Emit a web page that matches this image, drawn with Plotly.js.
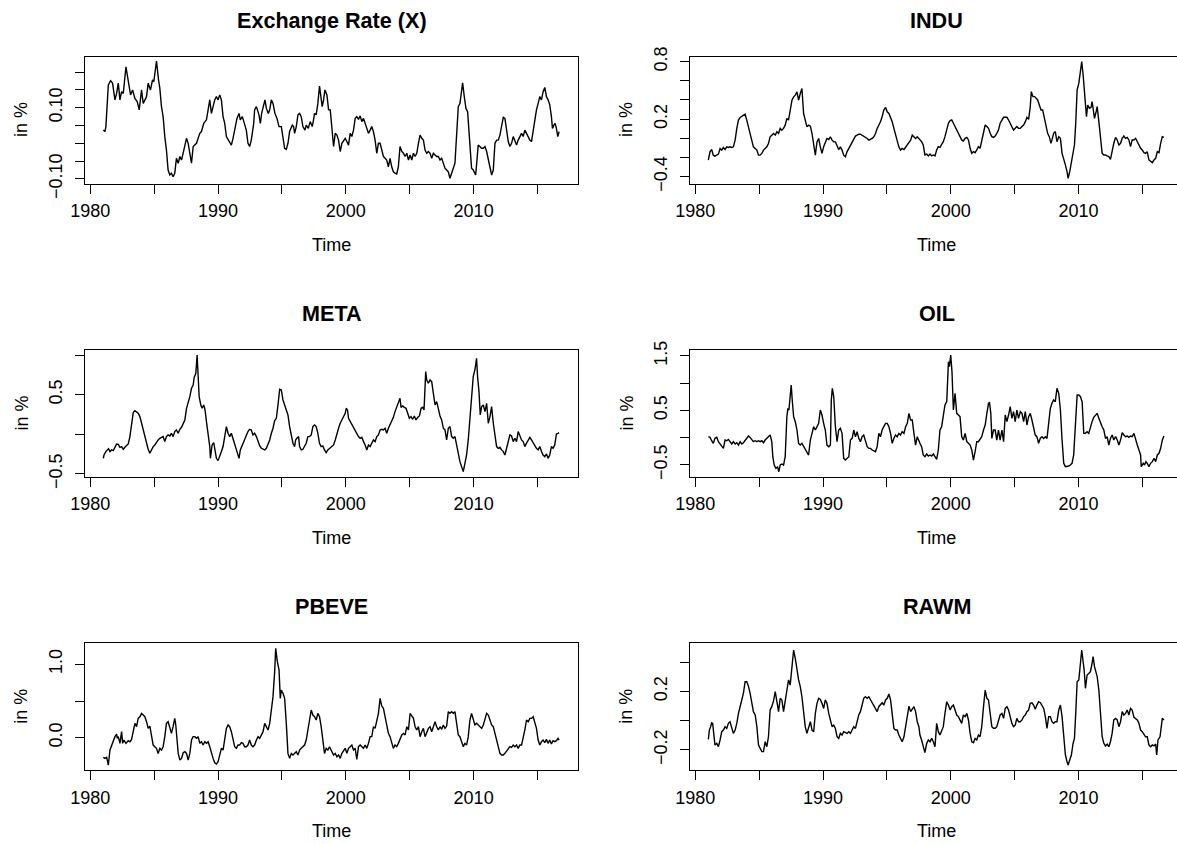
<!DOCTYPE html>
<html><head><meta charset="utf-8">
<script src="https://cdn.plot.ly/plotly-3.0.1.min.js"></script>
<style>html,body{margin:0;padding:0;background:#fff}#chart{width:1177px;height:844px}</style>
</head><body><div id="chart"></div><script>
// ---- tick labels ----
const xTickVals=[1980,1985,1990,1995,2000,2005,2010,2015];
const xTickText=['1980','','1990','','2000','','2010',''];
const exTickVals=[-0.10,-0.05,0,0.05,0.10,0.15,0.20];
const exTickText=['\u22120.10','','','','0.10','',''];
const induTickVals=[-0.4,-0.2,0,0.2,0.4,0.6,0.8];
const induTickText=['\u22120.4','','','0.2','','','0.8'];
const metaTickVals=[-0.5,0,0.5,1.0];
const metaTickText=['\u22120.5','','0.5',''];
const oilTickVals=[-0.5,0,0.5,1.0,1.5];
const oilTickText=['\u22120.5','','0.5','','1.5'];
const pbeveTickVals=[0,0.5,1.0];
const pbeveTickText=['0.0','','1.0'];
const rawmTickVals=[-0.2,0,0.2,0.4];
const rawmTickText=['\u22120.2','','0.2',''];
const titles=['Exchange Rate (X)','INDU','META','OIL','PBEVE','RAWM'];

// ---- Exchange Rate (X) ----
const exTime=[1981.02,1981.15,1981.22,1981.41,1981.59,1981.74,1981.93,1982.06,1982.19,1982.32,1982.45,1982.58,1982.79,1982.97,1983.15,1983.31,1983.49,1983.67,1983.83,1984.01,1984.14,1984.40,1984.53,1984.71,1984.87,1984.97,1985.18,1985.34,1985.44,1985.57,1985.70,1985.83,1985.96,1986.09,1986.22,1986.35,1986.48,1986.61,1986.74,1986.88,1987.01,1987.14,1987.27,1987.40,1987.53,1987.66,1987.79,1987.92,1988.05,1988.31,1988.57,1988.70,1988.88,1989.09,1989.22,1989.35,1989.48,1989.61,1989.74,1989.87,1990.00,1990.13,1990.26,1990.39,1990.52,1990.65,1990.86,1991.04,1991.17,1991.30,1991.48,1991.64,1991.74,1991.90,1992.08,1992.21,1992.34,1992.47,1992.60,1992.79,1992.86,1993.00,1993.20,1993.31,1993.41,1993.57,1993.67,1993.78,1993.93,1994.04,1994.17,1994.30,1994.45,1994.61,1994.77,1994.95,1995.08,1995.21,1995.34,1995.47,1995.60,1995.81,1995.91,1995.99,1996.12,1996.25,1996.38,1996.51,1996.64,1996.80,1996.90,1997.06,1997.21,1997.37,1997.47,1997.55,1997.68,1997.81,1997.94,1998.07,1998.15,1998.26,1998.36,1998.52,1998.65,1998.78,1998.91,1999.04,1999.17,1999.30,1999.43,1999.56,1999.69,1999.82,1999.95,2000.08,2000.21,2000.34,2000.47,2000.60,2000.73,2000.86,2000.99,2001.12,2001.25,2001.38,2001.51,2001.64,2001.77,2001.90,2002.03,2002.16,2002.29,2002.42,2002.55,2002.68,2002.81,2002.94,2003.07,2003.20,2003.33,2003.46,2003.59,2003.72,2003.85,2003.98,2004.11,2004.24,2004.38,2004.51,2004.64,2004.77,2004.90,2005.03,2005.16,2005.29,2005.42,2005.55,2005.68,2005.81,2005.94,2006.07,2006.20,2006.33,2006.46,2006.59,2006.72,2006.85,2006.98,2007.11,2007.24,2007.37,2007.50,2007.63,2007.76,2007.89,2008.02,2008.15,2008.28,2008.41,2008.54,2008.67,2008.80,2008.93,2009.01,2009.14,2009.27,2009.40,2009.53,2009.71,2009.84,2009.97,2010.16,2010.23,2010.36,2010.49,2010.63,2010.76,2010.89,2011.02,2011.15,2011.28,2011.41,2011.54,2011.67,2011.80,2011.93,2012.06,2012.19,2012.32,2012.45,2012.58,2012.71,2012.84,2012.97,2013.10,2013.23,2013.36,2013.49,2013.62,2013.75,2013.88,2014.01,2014.14,2014.27,2014.40,2014.53,2014.66,2014.79,2014.92,2015.05,2015.18,2015.31,2015.44,2015.57,2015.70,2015.83,2015.96,2016.09,2016.17,2016.28,2016.38,2016.48,2016.59,2016.69];
const exVal=[0.037,0.033,0.047,0.164,0.176,0.169,0.122,0.140,0.169,0.122,0.145,0.140,0.215,0.169,0.136,0.150,0.126,0.117,0.094,0.150,0.112,0.131,0.169,0.150,0.178,0.173,0.231,0.178,0.155,0.103,0.075,0.019,-0.019,-0.075,-0.089,-0.084,-0.094,-0.084,-0.042,-0.056,-0.037,-0.047,-0.028,-0.009,0.014,0.000,-0.028,-0.056,-0.009,0.000,0.028,0.033,0.056,0.066,0.094,0.122,0.084,0.108,0.122,0.131,0.122,0.136,0.122,0.075,0.056,0.019,0.005,-0.005,0.014,0.037,0.070,0.084,0.066,0.075,0.056,0.037,0.000,-0.009,0.009,0.056,0.094,0.103,0.080,0.056,0.084,0.112,0.122,0.098,0.084,0.094,0.122,0.112,0.084,0.070,0.047,0.047,0.019,-0.014,-0.017,0.000,0.033,0.051,0.047,0.028,0.047,0.080,0.084,0.075,0.047,0.037,0.051,0.042,0.061,0.047,0.066,0.084,0.080,0.112,0.161,0.131,0.103,0.122,0.150,0.136,0.094,0.094,0.037,-0.009,0.028,0.023,0.009,-0.023,0.000,0.009,0.014,0.005,-0.005,0.028,0.019,0.037,0.070,0.075,0.067,0.077,0.061,0.070,0.056,0.037,0.028,0.037,0.047,0.033,0.009,-0.028,0.000,0.000,-0.019,-0.037,-0.042,-0.047,-0.066,-0.042,-0.066,-0.080,-0.084,-0.086,-0.066,-0.009,-0.023,-0.028,-0.037,-0.028,-0.047,-0.033,-0.047,-0.028,-0.037,-0.028,0.000,0.023,0.014,0.009,-0.019,-0.028,-0.023,-0.028,-0.042,-0.028,-0.033,-0.037,-0.037,-0.047,-0.042,-0.056,-0.070,-0.075,-0.080,-0.098,-0.080,-0.070,-0.056,0.037,0.103,0.112,0.140,0.170,0.131,0.098,0.089,0.009,-0.070,-0.075,-0.089,-0.061,-0.005,-0.009,-0.014,-0.014,-0.009,-0.023,-0.047,-0.075,-0.089,-0.075,0.000,0.009,0.009,0.023,0.047,0.073,0.070,0.033,0.005,-0.009,0.000,0.019,0.005,-0.005,0.009,0.019,0.028,0.019,0.037,0.028,0.019,0.009,0.005,0.037,0.061,0.094,0.112,0.131,0.122,0.145,0.157,0.131,0.122,0.108,0.075,0.042,0.051,0.056,0.042,0.019,0.033];

// ---- INDU ----
const induTime=[1981.02,1981.15,1981.28,1981.41,1981.54,1981.68,1981.81,1981.94,1982.07,1982.20,1982.33,1982.46,1982.59,1982.72,1982.85,1982.98,1983.12,1983.25,1983.38,1983.51,1983.64,1983.77,1983.90,1984.03,1984.16,1984.29,1984.42,1984.55,1984.69,1984.82,1984.95,1985.08,1985.21,1985.34,1985.47,1985.60,1985.73,1985.86,1985.99,1986.13,1986.26,1986.39,1986.52,1986.65,1986.78,1986.91,1987.04,1987.17,1987.30,1987.43,1987.57,1987.70,1987.83,1987.96,1988.09,1988.22,1988.35,1988.48,1988.61,1988.74,1988.87,1989.01,1989.14,1989.27,1989.40,1989.53,1989.66,1989.79,1989.92,1990.05,1990.18,1990.31,1990.45,1990.58,1990.71,1990.84,1990.97,1991.10,1991.23,1991.36,1991.49,1991.62,1991.75,1991.88,1992.02,1992.15,1992.28,1992.41,1992.54,1992.67,1992.80,1992.93,1993.06,1993.19,1993.32,1993.46,1993.59,1993.72,1993.85,1993.98,1994.11,1994.24,1994.37,1994.50,1994.63,1994.76,1994.90,1995.03,1995.16,1995.29,1995.42,1995.55,1995.68,1995.81,1995.94,1996.07,1996.20,1996.34,1996.47,1996.60,1996.73,1996.86,1996.99,1997.12,1997.25,1997.38,1997.51,1997.64,1997.72,1997.85,1997.98,1998.12,1998.25,1998.38,1998.51,1998.64,1998.77,1998.90,1999.03,1999.16,1999.29,1999.42,1999.55,1999.69,1999.82,1999.95,2000.08,2000.21,2000.34,2000.47,2000.60,2000.73,2000.86,2000.99,2001.13,2001.26,2001.39,2001.52,2001.65,2001.78,2001.91,2002.04,2002.17,2002.30,2002.43,2002.57,2002.70,2002.83,2002.96,2003.09,2003.22,2003.35,2003.48,2003.61,2003.74,2003.87,2004.01,2004.14,2004.27,2004.40,2004.53,2004.66,2004.79,2004.92,2005.05,2005.18,2005.31,2005.45,2005.58,2005.71,2005.84,2005.97,2006.10,2006.23,2006.31,2006.44,2006.57,2006.70,2006.81,2006.94,2007.07,2007.20,2007.33,2007.46,2007.59,2007.72,2007.85,2007.93,2008.06,2008.19,2008.32,2008.46,2008.59,2008.72,2008.85,2008.98,2009.11,2009.19,2009.32,2009.45,2009.58,2009.69,2009.79,2009.90,2010.03,2010.16,2010.26,2010.37,2010.45,2010.55,2010.63,2010.73,2010.86,2010.99,2011.07,2011.15,2011.26,2011.39,2011.47,2011.60,2011.73,2011.86,2011.99,2012.12,2012.25,2012.38,2012.51,2012.64,2012.77,2012.91,2013.04,2013.17,2013.30,2013.43,2013.56,2013.69,2013.82,2013.95,2014.08,2014.21,2014.35,2014.48,2014.61,2014.74,2014.87,2015.00,2015.13,2015.26,2015.39,2015.52,2015.65,2015.79,2015.92,2016.05,2016.18,2016.31,2016.44,2016.57,2016.70];
const induVal=[-0.228,-0.141,-0.117,-0.176,-0.186,-0.176,-0.165,-0.106,-0.123,-0.096,-0.117,-0.089,-0.096,-0.089,-0.096,-0.089,-0.019,0.103,0.190,0.217,0.231,0.242,0.252,0.190,0.120,0.050,-0.019,-0.089,-0.106,-0.123,-0.176,-0.176,-0.158,-0.123,-0.106,-0.089,-0.054,0.016,0.033,0.050,0.033,0.068,0.050,0.103,0.085,0.103,0.137,0.207,0.190,0.294,0.398,0.433,0.450,0.485,0.398,0.468,0.520,0.259,0.172,0.120,0.137,0.127,0.050,-0.054,-0.176,-0.037,-0.002,-0.089,-0.158,-0.089,-0.037,-0.002,-0.012,0.016,-0.019,-0.037,-0.037,-0.071,-0.117,-0.089,-0.123,-0.176,-0.193,-0.141,-0.106,-0.071,-0.037,-0.002,0.023,0.033,0.043,0.043,0.033,0.016,0.009,-0.002,-0.019,-0.012,-0.002,0.016,0.050,0.103,0.137,0.172,0.224,0.294,0.322,0.277,0.259,0.224,0.172,0.103,0.033,-0.037,-0.089,-0.123,-0.106,-0.117,-0.089,-0.071,-0.047,-0.019,0.033,0.016,-0.002,0.016,-0.002,-0.019,-0.035,-0.070,-0.174,-0.164,-0.184,-0.164,-0.184,-0.174,-0.184,-0.122,-0.087,-0.094,-0.070,-0.035,0.017,0.104,0.157,0.184,0.191,0.157,0.122,0.087,0.045,0.010,-0.017,-0.028,0.000,0.010,-0.017,-0.104,-0.157,-0.139,-0.150,-0.122,-0.087,-0.104,-0.017,0.052,0.139,0.122,0.104,0.052,0.017,0.010,0.024,0.052,0.087,0.157,0.198,0.219,0.219,0.219,0.191,0.157,0.122,0.087,0.104,0.122,0.104,0.104,0.122,0.139,0.174,0.219,0.198,0.331,0.487,0.435,0.435,0.418,0.400,0.348,0.296,0.296,0.209,0.157,0.052,0.017,-0.052,-0.017,0.052,0.070,-0.035,0.017,0.000,-0.157,-0.209,-0.278,-0.348,-0.418,-0.348,-0.261,-0.157,-0.070,0.157,0.505,0.574,0.679,0.800,0.661,0.539,0.296,0.226,0.348,0.313,0.324,0.383,0.313,0.209,0.278,0.331,0.174,0.017,-0.157,-0.174,-0.174,-0.184,-0.191,-0.219,-0.122,-0.052,0.010,-0.017,-0.070,-0.052,0.000,0.024,0.000,0.010,-0.017,-0.087,-0.017,-0.017,0.000,-0.035,-0.070,-0.104,-0.122,-0.150,-0.157,-0.139,-0.226,-0.244,-0.254,-0.226,-0.209,-0.139,-0.150,-0.052,0.017,0.010];

// ---- META ----
const metaTime=[1981.02,1981.07,1981.22,1981.33,1981.43,1981.54,1981.67,1981.80,1981.93,1982.06,1982.19,1982.32,1982.45,1982.58,1982.71,1982.84,1982.97,1983.10,1983.23,1983.36,1983.49,1983.62,1983.75,1983.88,1984.01,1984.14,1984.27,1984.40,1984.53,1984.66,1984.79,1984.92,1985.05,1985.18,1985.31,1985.44,1985.57,1985.70,1985.83,1985.96,1986.09,1986.22,1986.35,1986.48,1986.61,1986.74,1986.88,1987.01,1987.14,1987.27,1987.40,1987.53,1987.66,1987.79,1987.92,1988.05,1988.13,1988.26,1988.36,1988.46,1988.52,1988.65,1988.75,1988.88,1988.98,1989.09,1989.22,1989.35,1989.40,1989.53,1989.66,1989.77,1989.87,1990.00,1990.13,1990.26,1990.39,1990.52,1990.65,1990.78,1990.91,1991.04,1991.17,1991.30,1991.43,1991.56,1991.64,1991.74,1991.90,1992.08,1992.21,1992.34,1992.47,1992.60,1992.73,1992.86,1993.00,1993.13,1993.26,1993.39,1993.52,1993.65,1993.78,1993.91,1994.04,1994.17,1994.30,1994.43,1994.56,1994.69,1994.82,1994.95,1995.08,1995.21,1995.34,1995.47,1995.60,1995.73,1995.86,1995.99,1996.07,1996.17,1996.30,1996.38,1996.51,1996.64,1996.77,1996.90,1997.03,1997.16,1997.29,1997.42,1997.55,1997.68,1997.81,1997.94,1998.07,1998.20,1998.33,1998.46,1998.59,1998.72,1998.78,1998.91,1999.04,1999.17,1999.30,1999.43,1999.56,1999.69,1999.82,1999.95,2000.03,2000.13,2000.21,2000.34,2000.47,2000.60,2000.73,2000.86,2000.99,2001.12,2001.25,2001.38,2001.51,2001.64,2001.77,2001.90,2002.03,2002.16,2002.29,2002.42,2002.55,2002.68,2002.81,2002.94,2003.07,2003.20,2003.33,2003.46,2003.59,2003.72,2003.85,2003.98,2004.11,2004.24,2004.32,2004.45,2004.58,2004.71,2004.84,2004.97,2005.10,2005.23,2005.36,2005.49,2005.63,2005.76,2005.89,2006.02,2006.12,2006.25,2006.33,2006.46,2006.59,2006.72,2006.85,2006.98,2007.11,2007.24,2007.37,2007.50,2007.63,2007.76,2007.89,2008.02,2008.15,2008.28,2008.41,2008.54,2008.67,2008.80,2008.93,2009.06,2009.19,2009.32,2009.45,2009.58,2009.71,2009.84,2009.97,2010.10,2010.23,2010.31,2010.42,2010.52,2010.63,2010.76,2010.89,2011.02,2011.15,2011.28,2011.41,2011.54,2011.67,2011.80,2011.93,2012.06,2012.19,2012.32,2012.45,2012.58,2012.71,2012.84,2012.97,2013.10,2013.23,2013.36,2013.49,2013.62,2013.75,2013.88,2014.01,2014.14,2014.27,2014.40,2014.53,2014.66,2014.79,2014.92,2015.05,2015.18,2015.31,2015.44,2015.57,2015.70,2015.83,2015.96,2016.09,2016.22,2016.35,2016.48,2016.61,2016.69];
const metaVal=[-0.303,-0.261,-0.218,-0.189,-0.181,-0.218,-0.197,-0.206,-0.164,-0.122,-0.126,-0.164,-0.155,-0.189,-0.164,-0.147,-0.122,-0.029,0.160,0.273,0.298,0.286,0.265,0.223,0.139,0.055,-0.029,-0.113,-0.189,-0.239,-0.197,-0.155,-0.134,-0.092,-0.071,-0.050,-0.038,-0.029,-0.092,-0.029,-0.008,-0.021,0.013,-0.029,0.034,0.055,0.013,0.063,0.088,0.139,0.181,0.328,0.391,0.475,0.580,0.622,0.718,0.769,1.000,0.727,0.475,0.370,0.328,0.370,0.307,0.160,0.013,-0.155,-0.303,-0.134,-0.105,-0.197,-0.303,-0.332,-0.282,-0.218,-0.155,-0.029,0.097,0.013,-0.029,0.013,-0.050,-0.134,-0.176,-0.239,-0.303,-0.197,-0.134,-0.071,-0.021,0.034,0.063,0.055,-0.008,0.013,-0.029,-0.092,-0.147,-0.176,-0.189,-0.197,-0.176,-0.134,-0.071,0.013,0.076,0.172,0.202,0.370,0.567,0.559,0.433,0.370,0.307,0.244,0.097,-0.029,-0.113,-0.155,-0.071,-0.050,-0.029,-0.155,-0.197,-0.189,-0.155,-0.113,-0.029,-0.029,-0.008,0.097,0.118,0.097,0.013,-0.113,-0.155,-0.147,-0.197,-0.231,-0.197,-0.176,-0.176,-0.155,-0.134,-0.071,0.013,0.076,0.139,0.181,0.223,0.265,0.328,0.307,0.202,0.160,0.139,0.076,0.034,-0.008,-0.029,-0.050,-0.038,-0.092,-0.134,-0.197,-0.134,-0.155,-0.113,-0.071,-0.092,-0.029,-0.008,0.055,0.063,0.055,0.076,0.013,0.076,0.118,0.181,0.214,0.286,0.349,0.399,0.454,0.340,0.357,0.340,0.328,0.265,0.202,0.223,0.189,0.231,0.181,0.214,0.231,0.328,0.340,0.307,0.790,0.685,0.643,0.685,0.664,0.517,0.370,0.412,0.307,0.231,0.181,0.076,0.055,-0.071,0.076,0.097,-0.029,-0.050,-0.029,-0.134,-0.282,-0.345,-0.408,-0.471,-0.366,-0.261,-0.071,0.202,0.559,0.727,0.811,0.958,0.727,0.538,0.244,0.349,0.370,0.286,0.391,0.139,0.223,0.349,0.139,-0.029,-0.155,-0.176,-0.164,-0.197,-0.218,-0.261,-0.176,-0.071,-0.008,-0.021,-0.092,-0.050,-0.092,0.034,-0.029,-0.071,-0.092,-0.155,-0.113,-0.071,-0.038,-0.071,-0.113,-0.134,-0.176,-0.197,-0.155,-0.218,-0.261,-0.282,-0.248,-0.303,-0.261,-0.155,-0.176,-0.134,0.004,0.013,0.021];

// ---- OIL ----
const oilTime=[1981.02,1981.15,1981.28,1981.41,1981.54,1981.68,1981.81,1981.94,1982.07,1982.20,1982.33,1982.46,1982.59,1982.72,1982.85,1982.98,1983.12,1983.25,1983.38,1983.51,1983.64,1983.77,1983.90,1984.03,1984.16,1984.29,1984.42,1984.55,1984.69,1984.82,1984.95,1985.08,1985.21,1985.34,1985.47,1985.60,1985.73,1985.86,1985.99,1986.07,1986.18,1986.31,1986.44,1986.54,1986.65,1986.78,1986.91,1987.04,1987.17,1987.25,1987.33,1987.43,1987.51,1987.59,1987.70,1987.83,1987.96,1988.09,1988.22,1988.35,1988.48,1988.61,1988.74,1988.87,1989.01,1989.14,1989.27,1989.40,1989.53,1989.66,1989.79,1989.92,1990.05,1990.18,1990.31,1990.45,1990.58,1990.65,1990.73,1990.84,1990.97,1991.10,1991.23,1991.36,1991.49,1991.62,1991.75,1991.88,1992.02,1992.15,1992.28,1992.41,1992.54,1992.67,1992.80,1992.93,1993.06,1993.19,1993.32,1993.46,1993.59,1993.72,1993.85,1993.98,1994.11,1994.24,1994.37,1994.50,1994.63,1994.76,1994.90,1995.03,1995.16,1995.29,1995.42,1995.55,1995.68,1995.81,1995.94,1996.07,1996.20,1996.34,1996.47,1996.60,1996.73,1996.86,1996.99,1997.12,1997.25,1997.38,1997.51,1997.59,1997.72,1997.85,1997.98,1998.12,1998.25,1998.38,1998.51,1998.64,1998.77,1998.90,1999.03,1999.16,1999.29,1999.42,1999.55,1999.69,1999.82,1999.90,2000.00,2000.10,2000.21,2000.34,2000.47,2000.60,2000.73,2000.86,2000.99,2001.13,2001.26,2001.39,2001.52,2001.65,2001.78,2001.91,2002.04,2002.17,2002.30,2002.43,2002.57,2002.70,2002.83,2002.96,2003.04,2003.14,2003.22,2003.35,2003.48,2003.61,2003.74,2003.87,2004.01,2004.14,2004.27,2004.40,2004.53,2004.66,2004.79,2004.92,2005.05,2005.18,2005.31,2005.45,2005.58,2005.71,2005.84,2005.97,2006.10,2006.23,2006.36,2006.49,2006.62,2006.75,2006.88,2007.01,2007.15,2007.28,2007.41,2007.54,2007.67,2007.80,2007.93,2008.06,2008.19,2008.32,2008.46,2008.59,2008.72,2008.85,2008.98,2009.11,2009.24,2009.37,2009.50,2009.63,2009.76,2009.90,2010.03,2010.16,2010.29,2010.42,2010.55,2010.68,2010.81,2010.94,2011.07,2011.20,2011.34,2011.47,2011.60,2011.73,2011.86,2011.99,2012.12,2012.25,2012.38,2012.51,2012.64,2012.77,2012.91,2013.04,2013.17,2013.30,2013.43,2013.56,2013.69,2013.82,2013.95,2014.08,2014.21,2014.35,2014.48,2014.61,2014.74,2014.87,2014.92,2015.08,2015.18,2015.29,2015.39,2015.52,2015.65,2015.79,2015.92,2016.05,2016.18,2016.31,2016.44,2016.57,2016.70];
const oilVal=[0.018,0.006,-0.055,-0.104,-0.012,0.006,-0.073,-0.104,-0.153,-0.196,-0.043,-0.055,-0.031,-0.073,-0.116,-0.073,-0.116,-0.092,-0.135,-0.073,-0.116,-0.092,-0.043,-0.012,0.031,0.006,-0.043,-0.073,-0.055,-0.073,-0.055,-0.073,-0.055,-0.092,-0.043,-0.012,0.018,0.049,-0.073,-0.349,-0.502,-0.563,-0.532,-0.624,-0.502,-0.483,-0.502,-0.349,0.385,0.538,0.508,0.752,0.966,0.691,0.385,0.294,0.141,-0.104,-0.135,-0.104,-0.165,-0.226,-0.287,-0.318,-0.043,0.110,0.202,0.141,0.202,0.263,0.508,0.416,0.263,0.141,-0.135,-0.165,-0.135,0.691,0.905,0.752,0.202,-0.073,0.141,0.171,0.080,-0.379,-0.410,-0.379,-0.349,-0.043,-0.012,0.141,0.018,0.110,-0.012,-0.073,0.018,0.049,-0.043,-0.165,-0.196,-0.196,-0.226,-0.239,-0.257,-0.165,0.080,0.018,0.141,0.202,0.263,0.263,0.202,0.080,-0.104,-0.012,0.049,0.018,0.080,0.049,0.110,0.080,0.202,0.263,0.446,0.324,0.324,0.080,-0.135,0.018,-0.073,-0.103,-0.165,-0.317,-0.348,-0.299,-0.336,-0.317,-0.336,-0.299,-0.348,-0.397,-0.226,0.141,0.202,0.386,0.600,0.661,1.395,1.303,1.517,1.211,0.508,0.814,0.447,0.416,0.386,0.019,-0.043,0.080,-0.073,-0.103,-0.134,-0.226,-0.410,-0.256,-0.073,-0.073,-0.013,0.019,0.141,0.233,0.447,0.631,0.642,0.447,-0.013,0.141,0.141,-0.043,0.141,-0.043,0.141,-0.073,0.416,0.294,0.416,0.569,0.355,0.477,0.294,0.508,0.355,0.477,0.447,0.294,0.477,0.233,0.386,0.447,0.325,0.202,0.049,0.019,-0.103,-0.013,0.019,-0.013,0.019,-0.013,0.263,0.539,0.631,0.692,0.661,0.906,0.814,0.508,-0.043,-0.470,-0.531,-0.531,-0.520,-0.501,-0.470,-0.317,0.141,0.783,0.783,0.753,0.661,0.080,0.080,0.111,0.080,0.202,0.294,0.373,0.416,0.447,0.355,0.263,0.202,0.141,-0.013,0.019,-0.134,-0.013,0.049,-0.043,0.019,-0.043,-0.134,-0.043,0.092,0.049,0.019,0.031,0.007,0.031,0.019,0.080,-0.043,-0.134,-0.226,-0.317,-0.531,-0.470,-0.501,-0.440,-0.470,-0.531,-0.470,-0.440,-0.378,-0.440,-0.317,-0.287,-0.195,-0.043,0.031];

// ---- PBEVE ----
const pbeveTime=[1981.02,1981.15,1981.28,1981.41,1981.54,1981.67,1981.80,1981.93,1982.06,1982.11,1982.19,1982.32,1982.45,1982.53,1982.63,1982.79,1982.97,1983.10,1983.23,1983.36,1983.49,1983.62,1983.75,1983.88,1984.01,1984.14,1984.27,1984.40,1984.53,1984.66,1984.79,1984.92,1985.05,1985.18,1985.31,1985.44,1985.57,1985.70,1985.83,1985.96,1986.09,1986.22,1986.35,1986.48,1986.61,1986.69,1986.80,1986.88,1987.01,1987.14,1987.27,1987.40,1987.53,1987.66,1987.79,1987.92,1988.05,1988.18,1988.31,1988.44,1988.57,1988.70,1988.83,1988.96,1989.09,1989.22,1989.35,1989.48,1989.61,1989.74,1989.87,1990.00,1990.13,1990.26,1990.39,1990.52,1990.65,1990.78,1990.91,1991.04,1991.17,1991.30,1991.43,1991.56,1991.69,1991.82,1991.95,1992.08,1992.21,1992.34,1992.47,1992.60,1992.73,1992.86,1993.00,1993.13,1993.26,1993.39,1993.52,1993.65,1993.78,1993.91,1994.04,1994.17,1994.30,1994.43,1994.51,1994.64,1994.77,1994.87,1994.95,1995.08,1995.21,1995.34,1995.47,1995.60,1995.73,1995.86,1995.99,1996.12,1996.25,1996.38,1996.51,1996.64,1996.77,1996.90,1997.03,1997.16,1997.29,1997.42,1997.55,1997.68,1997.81,1997.94,1998.07,1998.20,1998.33,1998.46,1998.59,1998.72,1998.91,1999.04,1999.17,1999.30,1999.43,1999.56,1999.69,1999.82,1999.95,2000.08,2000.21,2000.34,2000.47,2000.60,2000.73,2000.86,2000.99,2001.12,2001.25,2001.38,2001.51,2001.64,2001.77,2001.90,2002.03,2002.16,2002.29,2002.42,2002.55,2002.68,2002.81,2002.94,2003.07,2003.20,2003.33,2003.46,2003.59,2003.72,2003.85,2003.98,2004.11,2004.24,2004.38,2004.51,2004.64,2004.77,2004.90,2005.03,2005.16,2005.29,2005.42,2005.55,2005.68,2005.81,2005.94,2006.07,2006.20,2006.33,2006.46,2006.59,2006.72,2006.85,2006.98,2007.11,2007.24,2007.37,2007.50,2007.63,2007.76,2007.89,2008.02,2008.15,2008.28,2008.41,2008.54,2008.67,2008.80,2008.93,2009.06,2009.19,2009.32,2009.45,2009.58,2009.71,2009.84,2009.97,2010.10,2010.23,2010.36,2010.49,2010.63,2010.76,2010.89,2011.02,2011.15,2011.28,2011.41,2011.54,2011.67,2011.80,2011.93,2012.06,2012.19,2012.32,2012.45,2012.58,2012.71,2012.84,2012.97,2013.10,2013.23,2013.36,2013.49,2013.62,2013.75,2013.88,2014.01,2014.14,2014.27,2014.40,2014.53,2014.66,2014.79,2014.92,2015.05,2015.18,2015.31,2015.44,2015.57,2015.70,2015.83,2015.96,2016.09,2016.22,2016.35,2016.48,2016.61,2016.69];
const pbeveVal=[-0.268,-0.282,-0.268,-0.373,-0.168,-0.100,-0.032,0.014,0.050,-0.009,0.014,-0.077,0.082,-0.077,-0.032,-0.077,-0.041,-0.055,-0.023,0.082,0.195,0.150,0.264,0.286,0.332,0.309,0.286,0.218,0.127,0.159,0.036,-0.100,-0.123,-0.145,-0.214,-0.145,-0.168,-0.123,0.014,0.195,0.218,0.150,0.059,0.150,0.264,0.173,-0.009,-0.214,-0.305,-0.282,-0.205,-0.191,-0.214,-0.305,-0.214,-0.032,0.014,0.014,-0.009,0.014,-0.077,-0.055,-0.100,-0.055,-0.077,-0.055,-0.123,-0.214,-0.282,-0.341,-0.359,-0.327,-0.214,-0.145,-0.168,-0.009,0.127,0.173,0.150,0.082,-0.032,-0.123,-0.145,-0.100,-0.100,-0.068,-0.077,-0.123,-0.123,-0.100,-0.032,-0.100,-0.123,-0.100,-0.032,0.014,-0.009,0.036,0.082,0.195,0.150,0.105,0.195,0.355,0.559,0.900,1.218,1.036,0.923,0.536,0.650,0.605,0.536,0.195,-0.214,-0.282,-0.214,-0.236,-0.214,-0.191,-0.236,-0.168,-0.145,-0.114,-0.100,-0.032,0.082,0.241,0.377,0.309,0.286,0.241,0.332,0.286,0.150,-0.032,-0.214,-0.145,-0.168,-0.123,-0.190,-0.236,-0.213,-0.259,-0.236,-0.281,-0.213,-0.168,-0.145,-0.213,-0.145,-0.122,-0.100,-0.168,-0.145,-0.295,-0.122,-0.100,-0.122,-0.145,-0.100,-0.145,-0.077,0.014,0.014,0.150,0.127,0.241,0.332,0.536,0.431,0.400,0.286,0.127,0.059,0.014,-0.054,-0.145,-0.100,-0.122,-0.077,-0.009,0.037,0.059,0.037,0.150,0.105,0.332,0.286,0.263,0.150,0.105,0.150,0.014,0.082,0.127,0.014,0.082,0.127,0.150,0.082,0.150,0.218,0.150,0.105,0.150,0.114,0.173,0.127,0.159,0.355,0.332,0.355,0.332,0.355,0.196,0.037,0.014,-0.054,-0.122,-0.077,-0.100,0.014,0.241,0.332,0.241,0.173,0.196,0.173,0.150,0.127,0.173,0.241,0.332,0.309,0.241,0.173,0.150,0.059,-0.032,-0.122,-0.213,-0.236,-0.236,-0.213,-0.177,-0.145,-0.122,-0.131,-0.100,-0.122,-0.100,-0.145,-0.100,-0.100,-0.009,0.105,0.241,0.218,0.263,0.263,0.286,0.196,0.127,-0.032,-0.100,-0.054,-0.032,-0.068,-0.023,-0.077,-0.032,-0.086,-0.041,-0.054,-0.041,-0.009,-0.032];

// ---- RAWM ----
const rawmTime=[1981.02,1981.10,1981.20,1981.28,1981.36,1981.47,1981.54,1981.68,1981.81,1981.94,1982.07,1982.20,1982.33,1982.46,1982.59,1982.72,1982.85,1982.98,1983.12,1983.25,1983.38,1983.51,1983.64,1983.77,1983.90,1984.03,1984.16,1984.29,1984.42,1984.55,1984.69,1984.82,1984.95,1985.08,1985.21,1985.34,1985.47,1985.60,1985.73,1985.86,1985.99,1986.13,1986.26,1986.39,1986.52,1986.65,1986.78,1986.91,1987.04,1987.17,1987.30,1987.43,1987.57,1987.70,1987.83,1987.96,1988.09,1988.22,1988.35,1988.48,1988.61,1988.74,1988.87,1989.01,1989.14,1989.27,1989.40,1989.53,1989.66,1989.79,1989.92,1990.05,1990.18,1990.31,1990.45,1990.58,1990.71,1990.84,1990.97,1991.10,1991.23,1991.36,1991.49,1991.62,1991.75,1991.88,1992.02,1992.15,1992.28,1992.41,1992.54,1992.67,1992.80,1992.93,1993.06,1993.19,1993.32,1993.46,1993.59,1993.72,1993.85,1993.98,1994.11,1994.24,1994.37,1994.50,1994.63,1994.76,1994.90,1995.03,1995.16,1995.29,1995.42,1995.55,1995.68,1995.81,1995.94,1996.07,1996.20,1996.34,1996.47,1996.60,1996.73,1996.86,1996.99,1997.12,1997.25,1997.38,1997.51,1997.59,1997.72,1997.85,1997.98,1998.12,1998.25,1998.38,1998.51,1998.64,1998.77,1998.90,1999.03,1999.16,1999.29,1999.42,1999.55,1999.69,1999.82,1999.95,2000.08,2000.21,2000.34,2000.47,2000.60,2000.73,2000.86,2000.99,2001.13,2001.26,2001.39,2001.52,2001.65,2001.78,2001.91,2002.04,2002.17,2002.30,2002.43,2002.57,2002.70,2002.83,2002.96,2003.09,2003.22,2003.35,2003.48,2003.61,2003.74,2003.87,2004.01,2004.14,2004.27,2004.40,2004.53,2004.66,2004.79,2004.92,2005.05,2005.18,2005.31,2005.45,2005.58,2005.71,2005.84,2005.97,2006.10,2006.23,2006.36,2006.49,2006.62,2006.75,2006.88,2007.02,2007.15,2007.28,2007.41,2007.54,2007.67,2007.80,2007.93,2008.06,2008.19,2008.32,2008.46,2008.59,2008.72,2008.85,2008.98,2009.11,2009.19,2009.32,2009.45,2009.58,2009.69,2009.79,2009.90,2010.03,2010.16,2010.26,2010.37,2010.45,2010.55,2010.68,2010.81,2010.94,2011.07,2011.15,2011.26,2011.39,2011.47,2011.60,2011.73,2011.86,2011.99,2012.12,2012.25,2012.38,2012.51,2012.64,2012.77,2012.91,2013.04,2013.17,2013.30,2013.43,2013.56,2013.69,2013.82,2013.95,2014.08,2014.21,2014.35,2014.48,2014.61,2014.74,2014.87,2015.00,2015.13,2015.26,2015.39,2015.52,2015.65,2015.79,2015.92,2016.05,2016.13,2016.23,2016.39,2016.49,2016.57,2016.70];
const rawmVal=[-0.128,-0.064,-0.041,-0.014,-0.018,-0.110,-0.167,-0.155,-0.178,-0.132,-0.075,-0.064,-0.041,-0.053,-0.018,-0.007,-0.041,-0.087,-0.064,-0.018,0.050,0.107,0.142,0.189,0.267,0.267,0.237,0.189,0.119,0.062,0.039,-0.041,-0.167,-0.190,-0.212,-0.212,-0.144,-0.178,-0.110,0.073,0.096,0.137,0.199,0.130,0.062,0.153,0.142,0.062,0.142,0.187,0.279,0.244,0.358,0.484,0.427,0.347,0.279,0.233,0.164,0.062,-0.041,-0.087,-0.053,-0.007,-0.064,-0.075,0.050,0.119,0.153,0.146,0.119,0.084,0.142,0.119,0.050,0.005,-0.041,-0.030,-0.053,-0.110,-0.121,-0.087,-0.098,-0.075,-0.082,-0.087,-0.075,-0.087,-0.064,-0.041,-0.053,0.005,0.039,0.062,0.107,0.153,0.164,0.153,0.164,0.142,0.119,0.096,0.073,0.062,0.096,0.107,0.123,0.107,0.142,0.153,0.183,0.142,0.062,-0.053,-0.064,-0.064,-0.098,-0.128,-0.144,-0.110,-0.041,0.050,0.100,0.062,0.084,0.096,0.062,-0.007,-0.041,-0.098,-0.132,-0.178,-0.219,-0.155,-0.132,-0.144,-0.121,-0.144,-0.178,-0.018,-0.075,-0.098,-0.075,-0.041,0.050,0.130,0.107,0.073,0.096,0.107,0.073,0.039,0.028,0.005,-0.018,0.039,0.028,0.050,0.005,-0.087,-0.144,-0.151,-0.121,-0.132,-0.098,-0.110,-0.041,0.096,0.210,0.153,0.142,0.050,-0.041,-0.052,-0.052,-0.041,0.005,0.039,0.050,0.016,0.084,0.096,0.073,0.016,-0.018,-0.041,-0.030,0.016,-0.007,-0.007,0.005,0.028,0.039,0.062,0.073,0.119,0.123,0.107,0.078,0.107,0.130,0.123,0.107,0.084,0.028,-0.052,0.028,0.028,-0.007,-0.018,-0.007,-0.007,0.073,0.107,0.028,-0.110,-0.235,-0.281,-0.304,-0.269,-0.235,-0.155,-0.121,0.050,0.267,0.279,0.393,0.484,0.404,0.347,0.222,0.313,0.324,0.336,0.393,0.439,0.370,0.313,0.302,0.210,0.073,-0.110,-0.155,-0.173,-0.160,-0.178,-0.144,-0.087,0.005,0.016,0.005,-0.041,-0.007,0.062,0.039,0.050,0.073,0.039,0.084,0.073,0.023,0.016,0.005,-0.018,-0.064,-0.075,-0.098,-0.110,-0.110,-0.166,-0.178,-0.166,-0.173,-0.160,-0.235,-0.132,-0.110,-0.041,0.016,0.005];

// ---- panel setup ----
const W=1177,H=844;
const FONT='Liberation Sans, Arial, Helvetica, sans-serif';
const series=[
  {t:exTime,v:exVal,tv:exTickVals,tt:exTickText,yr:[-0.1129,0.2433]},
  {t:induTime,v:induVal,tv:induTickVals,tt:induTickText,yr:[-0.4718,0.8518]},
  {t:metaTime,v:metaVal,tv:metaTickVals,tt:metaTickText,yr:[-0.5347,1.0593]},
  {t:oilTime,v:oilVal,tv:oilTickVals,tt:oilTickText,yr:[-0.7156,1.6037]},
  {t:pbeveTime,v:pbeveVal,tv:pbeveTickVals,tt:pbeveTickText,yr:[-0.4428,1.2861]},
  {t:rawmTime,v:rawmVal,tv:rawmTickVals,tt:rawmTickText,yr:[-0.3390,0.5301]}
];
const rowsPx=[[56.7,183.5],[350.3,476.7],[643.3,770.2]];
const colsPx=[[85,578],[690,1177]];
const colRange=[[1979.585,2018.17],[1979.585,2017.72]];
const titleY=[21,313,606];
const timeY=[245,538,831];
const colCenter=[331.5,936.5];
const inPctX=[21,626];

const data=[];const layout={width:W,height:H,margin:{l:0,r:0,t:0,b:0},paper_bgcolor:'#fff',plot_bgcolor:'#fff',showlegend:false,font:{family:FONT,size:18,color:'#000'},annotations:[]};
series.forEach((s,i)=>{
  const n=i+1, row=Math.floor(i/2), col=i%2;
  const sfx=(n===1?'':String(n));
  data.push({type:'scatter',mode:'lines',x:s.t,y:s.v,xaxis:'x'+sfx,yaxis:'y'+sfx,line:{color:'#000',width:1.4},hoverinfo:'skip'});
  const [l,r]=colsPx[col], [tp,bt]=rowsPx[row];
  layout['xaxis'+sfx]={domain:[l/W,r/W],range:colRange[col],anchor:'y'+sfx,showline:true,linecolor:'#000',linewidth:1,mirror:true,
    ticks:'outside',ticklen:9,tickwidth:1,tickcolor:'#000',tickmode:'array',tickvals:xTickVals,ticktext:xTickText,
    tickfont:{family:FONT,size:18,color:'#000'},showgrid:false,zeroline:false,fixedrange:true,ticklabelstandoff:2};
  layout['yaxis'+sfx]={domain:[1-bt/H,1-tp/H],range:s.yr,anchor:'x'+sfx,showline:true,linecolor:'#000',linewidth:1,mirror:col===0,
    ticks:'outside',ticklen:9,tickwidth:1,tickcolor:'#000',tickmode:'array',tickvals:s.tv,ticktext:s.tt,tickangle:-90,
    tickfont:{family:FONT,size:18,color:'#000'},showgrid:false,zeroline:false,fixedrange:true,ticklabelstandoff:6};
  layout.annotations.push({xref:'paper',yref:'paper',x:colCenter[col]/W,y:1-titleY[row]/H,text:'<b>'+titles[i]+'</b>',showarrow:false,xanchor:'center',yanchor:'middle',font:{family:FONT,size:21.6,color:'#000'}});
  layout.annotations.push({xref:'paper',yref:'paper',x:colCenter[col]/W,y:1-timeY[row]/H,text:'Time',showarrow:false,xanchor:'center',yanchor:'middle',font:{family:FONT,size:18,color:'#000'}});
  layout.annotations.push({xref:'paper',yref:'paper',x:inPctX[col]/W,y:1-((tp+bt)/2)/H,text:'in %',textangle:-90,showarrow:false,xanchor:'center',yanchor:'middle',font:{family:FONT,size:18,color:'#000'}});
});
Plotly.newPlot('chart',data,layout,{displayModeBar:false,staticPlot:true});
</script></body></html>
